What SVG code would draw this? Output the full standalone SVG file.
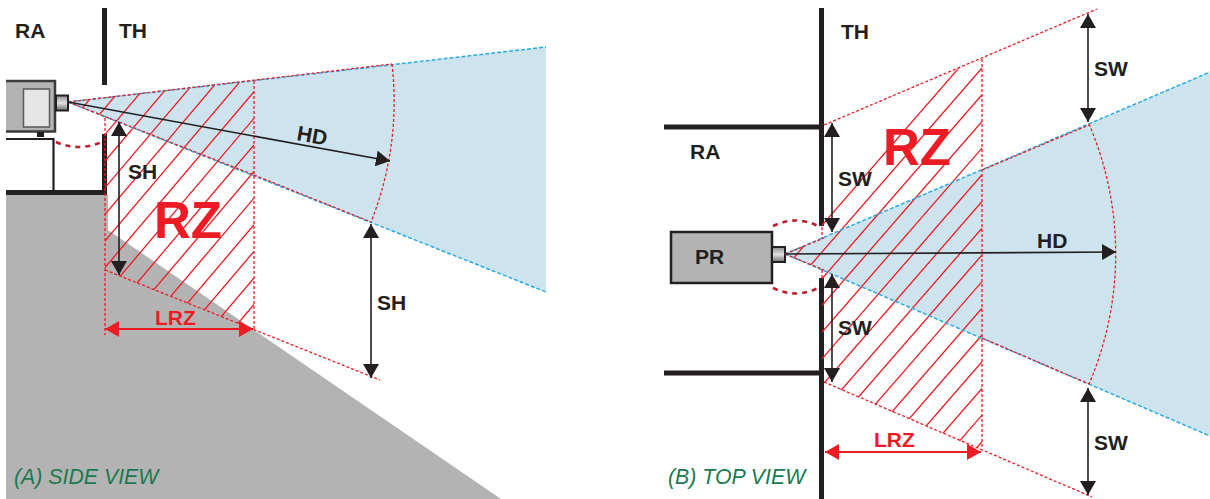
<svg xmlns="http://www.w3.org/2000/svg" width="1210" height="499" viewBox="0 0 1210 499">
<style>
text{font-family:"Liberation Sans",Arial,sans-serif;font-weight:700;font-size:21px;fill:#231f20}
.r{fill:#ed1c24}
.big{font-size:51px;fill:#ed1c24}
.cap{font-weight:400;font-style:italic;font-size:21.300px;fill:#1a7a4f}
.wall{stroke:#231f20;stroke-width:5;fill:none}
.thin{stroke:#231f20;stroke-width:2.200;fill:none}
.sky{fill:#cde4ef}
.bd{stroke:#29abe2;stroke-width:1.500;stroke-dasharray:4 2;fill:none}
.rd{stroke:#ed1c24;stroke-width:1.300;stroke-dasharray:3 2;fill:none}
.cr{stroke:#be1e2d;stroke-width:2.600;stroke-dasharray:5 5;fill:none}
.hatch{stroke:#ed1c24;stroke-width:1.300;fill:none}
.arrow{stroke:#231f20;stroke-width:1.600;fill:none;marker-start:url(#ks);marker-end:url(#ke)}
.arrow1{stroke:#231f20;stroke-width:1.600;fill:none;marker-end:url(#ke)}
.rarrow{stroke:#ed1c24;stroke-width:1.800;fill:none;marker-start:url(#rs);marker-end:url(#re)}
</style>
<defs>
<marker id="ke" markerUnits="userSpaceOnUse" markerWidth="15" markerHeight="16" refX="14" refY="8" orient="auto"><path d="M0 0L14 8L0 16Z" fill="#231f20"/></marker>
<marker id="ks" markerUnits="userSpaceOnUse" markerWidth="15" markerHeight="16" refX="0" refY="8" orient="auto"><path d="M14 0L0 8L14 16Z" fill="#231f20"/></marker>
<marker id="re" markerUnits="userSpaceOnUse" markerWidth="15" markerHeight="16" refX="14" refY="8" orient="auto"><path d="M0 0L14 8L0 16Z" fill="#ed1c24"/></marker>
<marker id="rs" markerUnits="userSpaceOnUse" markerWidth="15" markerHeight="16" refX="0" refY="8" orient="auto"><path d="M14 0L0 8L14 16Z" fill="#ed1c24"/></marker>
<clipPath id="cA"><polygon points="68,102 254,81 254,330 105,270 105,117"/></clipPath>
<clipPath id="cB"><polygon points="785,254 822,238 822,125 982,59 982,450 822,382 822,270"/></clipPath>
<linearGradient id="lens" x1="0" y1="0" x2="0" y2="1"><stop offset="0" stop-color="#8c8c8c"/><stop offset=".5" stop-color="#e0e0e0"/><stop offset="1" stop-color="#6e6e6e"/></linearGradient>
</defs>

<g id="side-view">
<polygon id="ground" points="6,195 108,195 108,230 501,499 6,499" fill="#b3b3b3"/>
<polygon class="sky" points="68,102 546,47 546,292"/>
<g id="room-a">
<path class="wall" d="M104.500 8V85"/>
<path class="wall" d="M104.500 134V194M6 192.500H107"/>
<path class="thin" d="M6 139H53.500V191"/>
</g>
<g id="zone-a" clip-path="url(#cA)">
<path class="hatch" d="M254 -121.100l-186 219.500M254 -94.500l-186 219.500M254 -67.900l-186 219.500M254 -41.300l-186 219.500M254 -14.700l-186 219.500M254 11.900l-186 219.500M254 38.500l-186 219.500M254 65.100l-186 219.500M254 91.700l-186 219.500M254 118.300l-186 219.500M254 144.900l-186 219.500M254 171.500l-186 219.500M254 198.100l-186 219.500M254 224.700l-186 219.500M254 251.300l-186 219.500M254 277.900l-186 219.500M254 304.500l-186 219.500"/>
</g>
<g id="projector-a">
<rect x="6" y="80" width="49" height="52" fill="#b3b3b3"/>
<path d="M6 81H55V131.500H6" fill="none" stroke="#3a3a3a" stroke-width="2.500"/>
<rect x="23.500" y="89" width="26" height="38" fill="#e6e6e6" stroke="#58595b" stroke-width="1.500"/>
<rect x="37" y="132" width="7" height="5" fill="#231f20"/>
<rect x="56" y="95.500" width="12" height="15" fill="url(#lens)" stroke="#231f20" stroke-width="2"/>
</g>
<g id="edges-a">
<path class="bd" d="M68 102L546 47M68 102L546 292"/>
<path class="rd" d="M68 102L392 64M68 102L254 175M105 118V335M254 81V330M105 270L380 380M392 64A326 326 0 0 1 371 222M254 175L371 222"/>
<path class="cr" d="M56 142Q78 152 102 142"/>
</g>
<g id="arrows-a">
<path class="arrow1" d="M68 102L390 161"/>
<path class="arrow" d="M119 122V275"/>
<path class="arrow" d="M371 224V378"/>
<path class="rarrow" d="M105 329H253"/>
</g>
<g id="labels-a">
<text x="15" y="38">RA</text>
<text x="119" y="38">TH</text>
<text x="128" y="179">SH</text>
<text x="377" y="310">SH</text>
<text transform="translate(296,140) rotate(10)">HD</text>
<text class="big" x="154" y="238">RZ</text>
<text class="r" x="155" y="325">LRZ</text>
<text class="cap" x="14" y="484">(A) SIDE VIEW</text>
</g>
</g>

<g id="top-view">
<polygon class="sky" points="785,254 1210,72 1210,436"/>
<g id="room-b">
<path class="wall" d="M821.500 8V226M821.500 278V499M664 127H820M664 373H820"/>
</g>
<g id="zone-b" clip-path="url(#cB)">
<path class="hatch" d="M982 41.300l-197 226.600M982 68l-197 226.600M982 94.700l-197 226.600M982 121.400l-197 226.600M982 148.100l-197 226.600M982 174.800l-197 226.600M982 201.500l-197 226.600M982 228.200l-197 226.600M982 254.900l-197 226.600M982 281.600l-197 226.600M982 308.300l-197 226.600M982 335l-197 226.600M982 361.700l-197 226.600M982 388.400l-197 226.600M982 415.100l-197 226.600M982 441.800l-197 226.600"/>
</g>
<g id="projector-b">
<rect x="671" y="232" width="101" height="51" fill="#b3b3b3" stroke="#231f20" stroke-width="2.500"/>
<rect x="772" y="247" width="13" height="15" fill="url(#lens)" stroke="#231f20" stroke-width="2"/>
</g>
<g id="edges-b">
<path class="bd" d="M785 254L1210 72M785 254L1210 436"/>
<path class="rd" d="M785 254L824 238M785 254L824 270M822 227V238M822 270V278M824 125L1097 9M824 382L1092 497M982 59V450M982 170L1089 125M982 338L1089 384M1089 124A330 330 0 0 1 1089 384"/>
<path class="cr" d="M773 226Q796 215 818 226M773 288Q796 299 818 288"/>
</g>
<g id="arrows-b">
<path class="arrow" d="M1088 14V122"/>
<path class="arrow" d="M1088 388V495"/>
<path class="arrow" d="M832 123V232"/>
<path class="arrow" d="M832 274V382"/>
<path class="arrow1" d="M785 254L1116 252"/>
<path class="rarrow" d="M825 452H981"/>
</g>
<g id="labels-b">
<text x="841" y="39">TH</text>
<text x="690" y="159">RA</text>
<text x="695" y="264">PR</text>
<text x="1094" y="76">SW</text>
<text x="1094" y="450">SW</text>
<text x="838" y="186">SW</text>
<text x="838" y="335">SW</text>
<text x="1037" y="248">HD</text>
<text class="big" x="883" y="165">RZ</text>
<text class="r" x="874" y="447">LRZ</text>
<text class="cap" x="668" y="484">(B) TOP VIEW</text>
</g>
</g>
</svg>
